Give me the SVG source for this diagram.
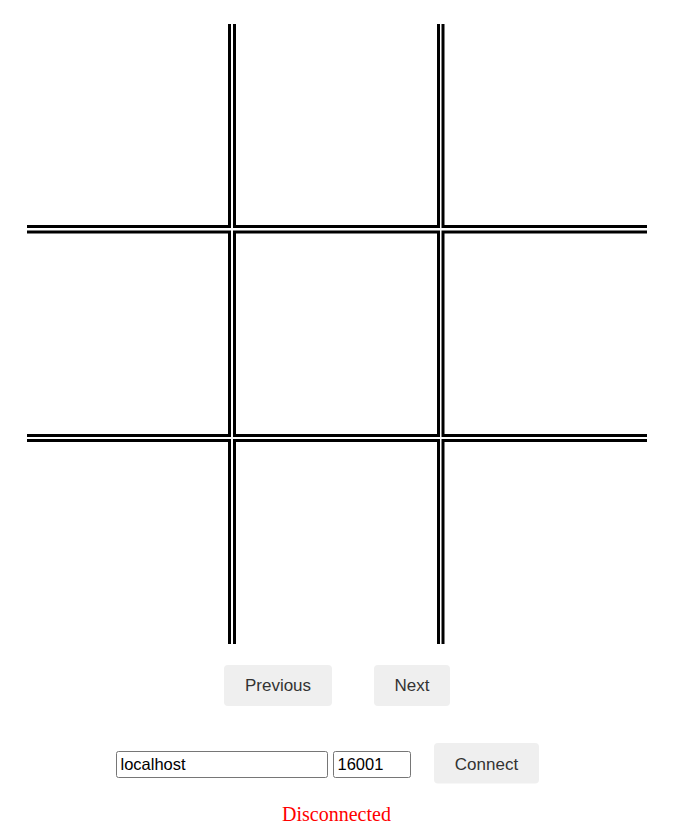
<svg xmlns="http://www.w3.org/2000/svg" width="684" height="840" viewBox="0 0 684 840">
  <style>
    .band { fill: #000; }
    .gap { fill: #fff; }
    .btn { fill: #efefef; }
    .btxt { font-family: "Liberation Sans", Arial, sans-serif; font-size: 17px; fill: #333; text-anchor: middle; }
    .inp { fill: #fff; stroke: #767676; stroke-width: 1; }
    .itxt { font-family: "Liberation Sans", Arial, sans-serif; font-size: 16.5px; fill: #000; }
    .status { font-family: "Liberation Serif", "Times New Roman", serif; font-size: 20px; fill: #ff0000; text-anchor: middle; }
  </style>
  <rect width="684" height="840" fill="#fff"/>
  <g id="board">
    <!-- vertical double lines -->
    <rect class="band" x="228" y="24" width="8" height="620"/>
    <rect class="band" x="437" y="24" width="7.5" height="620"/>
    <!-- horizontal double lines -->
    <rect class="band" x="27" y="225" width="620" height="8.5"/>
    <rect class="band" x="27" y="434" width="620" height="8"/>
    <!-- gaps -->
    <rect class="gap" x="231" y="24" width="2" height="620"/>
    <rect class="gap" x="440" y="24" width="1.5" height="620"/>
    <rect class="gap" x="27" y="228" width="620" height="2.5"/>
    <rect class="gap" x="27" y="437" width="620" height="2"/>
  </g>
  <g id="btn-previous">
    <rect class="btn" x="224" y="665" width="108" height="41" rx="4"/>
    <text class="btxt" x="278" y="691">Previous</text>
  </g>
  <g id="btn-next">
    <rect class="btn" x="374" y="665" width="76" height="41" rx="4"/>
    <text class="btxt" x="412" y="691">Next</text>
  </g>
  <g id="input-host">
    <rect class="inp" x="116.5" y="751.5" width="211" height="26" rx="2"/>
    <text class="itxt" x="120.5" y="769.5">localhost</text>
  </g>
  <g id="input-port">
    <rect class="inp" x="333.5" y="751.5" width="77" height="26" rx="2"/>
    <text class="itxt" x="337.5" y="769.5">16001</text>
  </g>
  <g id="btn-connect">
    <rect class="btn" x="434" y="743" width="105" height="40.5" rx="4"/>
    <text class="btxt" x="486.5" y="769.5">Connect</text>
  </g>
  <g id="status">
    <text class="status" x="336.5" y="821">Disconnected</text>
  </g>
</svg>
